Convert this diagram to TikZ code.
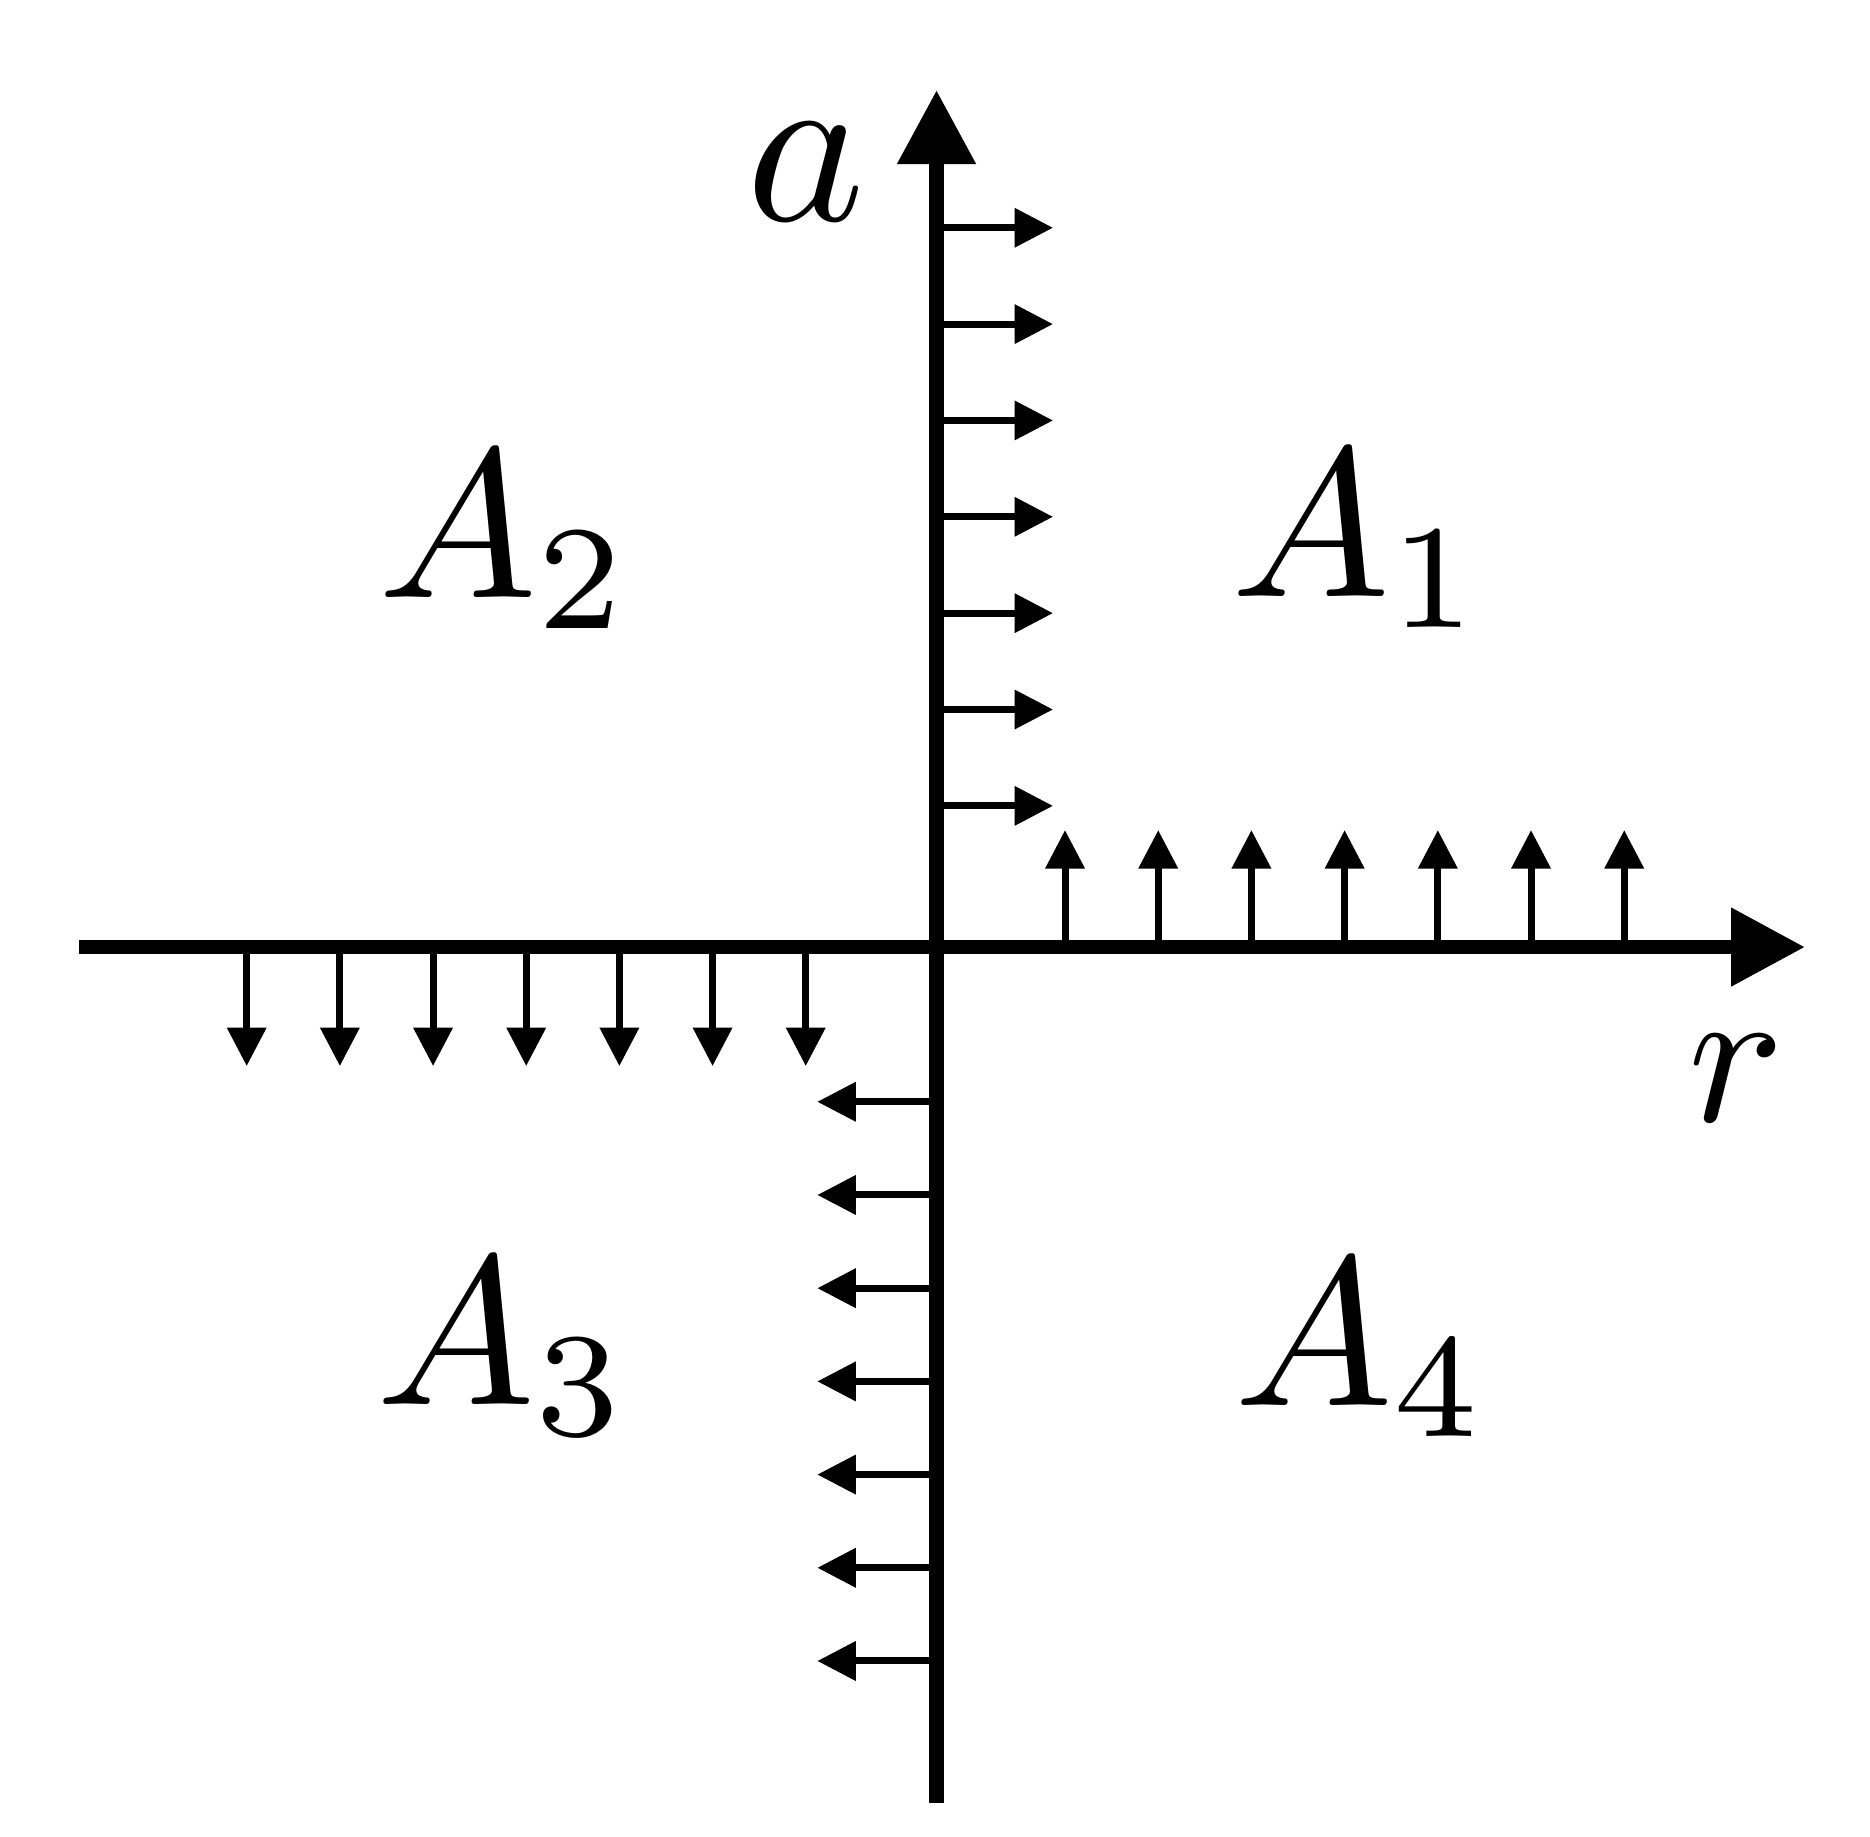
\documentclass[tikz,border=0pt]{standalone}
\usetikzlibrary{arrows.meta}
\tikzset{
  axisline/.style={line width=1.47pt,-{Triangle[length=7.4pt,width=7.5pt]}},
  force/.style={line width=0.7pt,-{Triangle[length=3.85pt,width=3.8pt]}},
  lbl/.style={inner sep=0pt,anchor=base west,scale=2.12}
}
\begin{document}
\begin{tikzpicture}[x=0.1pt,y=-0.1pt]
\useasboundingbox (0,0) rectangle (1870,1836);
% axes
\coordinate (xl) at (79,947);
\coordinate (xr) at (1805,947);
\coordinate (yb) at (936.5,1803.3);
\coordinate (yt) at (936.5,90);
\draw[axisline] (xl) -- (xr);
\draw[axisline] (yb) -- (yt);
% forces on upper half of a-axis (pointing right)
\foreach \k in {0,...,6}{
  \draw[force] (936.5,227.7+96.35*\k) -- (1053,227.7+96.35*\k);
}
% forces on positive r-axis (pointing up)
\foreach \k in {0,...,6}{
  \draw[force] (1065+93.2*\k,947) -- (1065+93.2*\k,830);
}
% forces on negative r-axis (pointing down)
\foreach \k in {0,...,6}{
  \draw[force] (246.7+93.17*\k,947) -- (246.7+93.17*\k,1066);
}
% forces on lower half of a-axis (pointing left)
\foreach \k in {0,...,6}{
  \draw[force] (936.5,1101.7+93.2*\k) -- (817.3,1101.7+93.2*\k);
}
% labels
\node[lbl,scale=2.25/2.12] (la) at (742,220) {$a$};
\node[lbl,scale=2.0/2.12] (lr) at (1684,1121) {$r$};
\node[lbl] (A1) at (1227,596) {$A_1$};
\node[lbl] (A2) at (374,597) {$A_2$};
\node[lbl] (A3) at (372,1404) {$A_3$};
\node[lbl] (A4) at (1230,1405) {$A_4$};
\end{tikzpicture}
\end{document}
